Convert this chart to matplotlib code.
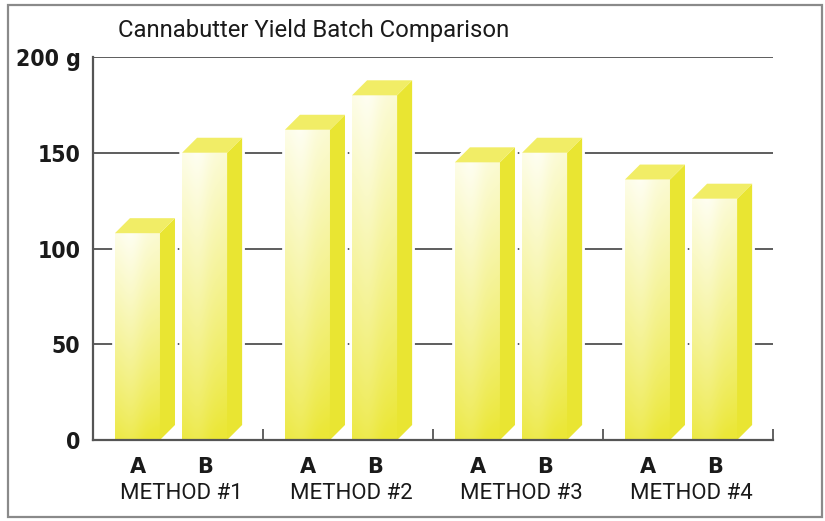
import matplotlib
matplotlib.use("Agg")
import matplotlib.pyplot as plt
import numpy as np
from matplotlib.patches import Polygon, Rectangle
from matplotlib.colors import to_rgb
from matplotlib.font_manager import FontProperties

# ---- data ----
title = "Cannabutter Yield Batch Comparison"
methods = ["METHOD #1", "METHOD #2", "METHOD #3", "METHOD #4"]
batches = ["A", "B"]
batch_a = [108, 162, 145, 136]
batch_b = [150, 180, 150, 126]
yticks = [0, 50, 100, 150, 200]
ytick_labels = ["0", "50", "100", "150", "200 g"]

W, H = 825, 521
fig = plt.figure(figsize=(W / 100, H / 100), dpi=100)
fig.patch.set_facecolor("white")

# outer frame
fig.add_artist(Rectangle((8 / W, 1 - 517 / H), (822 - 8) / W, (517 - 5) / H,
                         transform=fig.transFigure, fill=False,
                         edgecolor="#8a8a8a", linewidth=1.6))

ax = fig.add_axes([93 / W, 1 - 440 / H, (773 - 93) / W, (440 - 57) / H])
ax.set_facecolor("white")

ymax = 200
ax.set_xlim(0, 4)
ax.set_ylim(0, ymax)

# grid lines
for yv in yticks[1:]:
    ax.axhline(yv, color="#505050", linewidth=1.3, zorder=1)

# bar geometry (in group units)
bw = 0.265
offsets = [0.129, 0.524]
px_x = 170.0  # px per group unit
px_y = 383.0 / ymax
dx = 15 / px_x
dy = 15 / px_y

white = np.array([1.0, 1.0, 0.97])
yel = np.array(to_rgb("#ebe737"))
side_col = "#e9e532"
cap_col = "#f1ed66"

def front_image():
    ny, nx = 120, 40
    yy = np.linspace(1, 0, ny)[:, None]  # top->bottom : 1 -> 0
    xx = np.linspace(0, 1, nx)[None, :]
    t = 0.95 - 0.85 * yy ** 0.85 + 0.10 * xx - 0.10 * np.exp(-((xx - 0.35) / 0.25) ** 2)
    t = np.clip(t, 0, 1)
    img = white[None, None, :] * (1 - t[..., None]) + yel[None, None, :] * t[..., None]
    return img

for g in range(4):
    for k, vals in enumerate([batch_a, batch_b]):
        v = vals[g]
        x0 = g + offsets[k]
        x1 = x0 + bw
        sil = [(x0, 0), (x1, 0), (x1 + dx, dy), (x1 + dx, v + dy), (x0 + dx, v + dy), (x0, v)]
        ax.add_patch(Polygon(sil, closed=True, facecolor="white", edgecolor="white",
                             linewidth=4, zorder=2, joinstyle="miter"))
        front = Rectangle((x0, 0), bw, v, facecolor="none", edgecolor="none", zorder=3)
        ax.add_patch(front)
        im = ax.imshow(front_image(), extent=(x0, x1, 0, v), aspect="auto",
                       origin="upper", zorder=3, interpolation="bilinear")
        im.set_clip_path(front)
        side = [(x1, 0), (x1 + dx, dy), (x1 + dx, v + dy), (x1, v)]
        ax.add_patch(Polygon(side, closed=True, facecolor=side_col, edgecolor="none", zorder=3))
        cap = [(x0, v), (x1, v), (x1 + dx, v + dy), (x0 + dx, v + dy)]
        ax.add_patch(Polygon(cap, closed=True, facecolor=cap_col, edgecolor="none", zorder=3))

ax.set_xlim(0, 4)
ax.set_ylim(0, ymax)

for s in ["top", "right"]:
    ax.spines[s].set_visible(False)
for s in ["left", "bottom"]:
    ax.spines[s].set_color("#555555")
    ax.spines[s].set_linewidth(1.6)
    ax.spines[s].set_zorder(5)

ax.set_xticks([1, 2, 3, 4])
ax.set_xticklabels([])
ax.tick_params(axis="x", direction="in", length=8, width=1.3, color="#555555")

ytick_fp = FontProperties(family="DejaVu Sans", stretch="condensed", weight="bold", size=16.5)
ax.set_yticks(yticks)
ax.set_yticklabels(ytick_labels, fontproperties=ytick_fp, color="#1a1a1a")
ax.tick_params(axis="y", length=0, pad=9)

ab_fp = FontProperties(family="DejaVu Sans", weight="bold", size=15)
for g in range(4):
    for k, b in enumerate(batches):
        xc = g + offsets[k] + bw / 2
        ax.text(xc, -0.07, b, transform=ax.get_xaxis_transform(), ha="center", va="center",
                fontproperties=ab_fp, color="#1a1a1a")
    ax.text(g + 0.52, -0.14, methods[g], transform=ax.get_xaxis_transform(),
            ha="center", va="center", fontsize=16, family=["Roboto", "DejaVu Sans"],
            color="#1a1a1a")

fig.text(118 / W, 1 - 30 / H, title, ha="left", va="center", fontsize=17.2,
         family=["Roboto", "DejaVu Sans"], color="#1a1a1a")

fig.savefig("out.png", dpi=100, facecolor="white")
